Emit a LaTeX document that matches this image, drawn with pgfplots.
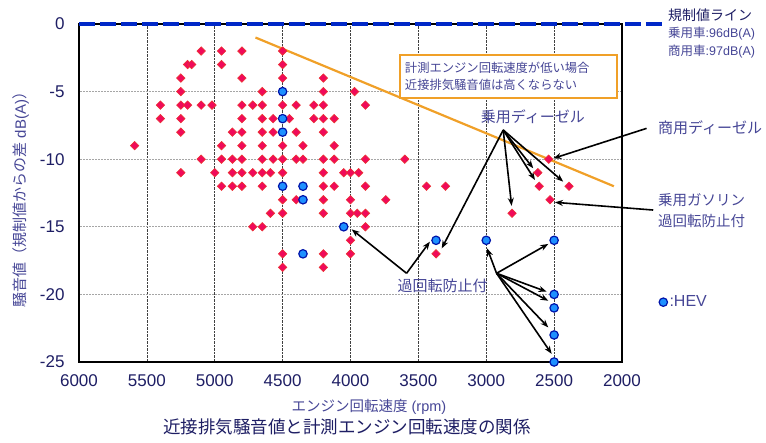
\documentclass[border=0pt]{standalone}
\usepackage{pgfplots}
\pgfplotsset{compat=1.18}
\usepackage{pgfplotstable}
\usepackage{fontspec}
\setmainfont{Liberation Sans}
\newfontfamily\cjk{Noto Sans CJK JP}
\usetikzlibrary{arrows.meta,calc}
\definecolor{navy}{RGB}{30,30,100}
\definecolor{annot}{RGB}{70,70,150}
\definecolor{redm}{RGB}{240,10,90}
\definecolor{redb}{RGB}{235,50,50}
\definecolor{bluef}{RGB}{30,144,255}
\definecolor{blueb}{RGB}{0,20,170}
\definecolor{orng}{RGB}{240,160,40}
\definecolor{regblue}{RGB}{0,40,200}

\pgfplotstableread{
x y
5100 -2
4950 -2
4800 -2
4500 -2
5200 -3
5170 -3
4950 -3
4500 -3
5250 -4
4800 -4
4500 -4
4200 -4
5250 -5
4650 -5
4200 -5
3970 -5
5400 -6
5250 -6
5200 -6
5100 -6
5020 -6
4800 -6
4720 -6
4650 -6
4500 -6
4400 -6
4270 -6
4200 -6
3890 -6
5400 -7
5250 -7
4800 -7
4650 -7
4570 -7
4450 -7
4270 -7
4200 -7
4120 -7
5250 -8
4870 -8
4800 -8
4650 -8
4570 -8
4400 -8
4200 -8
5590 -9
4950 -9
4800 -9
4650 -9
4500 -9
4350 -9
4120 -9
5100 -10
4950 -10
4870 -10
4800 -10
4650 -10
4570 -10
4500 -10
4400 -10
4350 -10
4200 -10
4120 -10
3890 -10
3600 -10
2540 -10
5250 -11
5000 -11
4870 -11
4800 -11
4720 -11
4650 -11
4590 -11
4500 -11
4200 -11
4050 -11
4000 -11
3940 -11
2620 -11
4950 -12
4870 -12
4800 -12
4650 -12
4200 -12
4120 -12
3890 -12
3440 -12
3300 -12
2610 -12
2390 -12
4500 -13
4400 -13
4200 -13
4000 -13
3740 -13
2530 -13
4590 -14
4500 -14
4200 -14
4000 -14
3950 -14
3890 -14
2810 -14
4720 -15
4650 -15
3890 -15
4000 -16
4500 -17
4200 -17
4000 -17
3370 -17
4500 -18
4200 -18
}\redpts

\pgfplotstableread{
x y
4500 -5
4500 -7
4500 -8
4500 -12
4350 -12
4350 -13
4050 -15
4350 -17
3370 -16
3000 -16
2500 -16
2500 -20
2500 -21
2500 -23
2500 -25
}\bluepts

\tikzset{arr/.style={-{Stealth[length=8pt,width=6pt]}, line width=1.6pt, black}}

\begin{document}
\begin{tikzpicture}
\begin{axis}[
  width=543pt, height=338pt, scale only axis,
  x dir=reverse,
  xmin=2000, xmax=6000, ymin=-25, ymax=0,
  xtick={2000,2500,...,6000}, ytick={-25,-20,...,0},
  major tick length=0pt,
  /pgf/number format/assume math mode=true,
  /pgf/number format/1000 sep={},
  tick label style={font=\fontsize{17}{17}\selectfont, text=navy},
  xticklabel style={yshift=-9pt},
  yticklabel style={xshift=-11pt},
  grid=major,
  x grid style={black!75, densely dotted, line width=0.6pt},
  y grid style={gray!70, dash pattern=on 1.5pt off 1.5pt, line width=0.6pt},
  axis line style={black, line width=1.4pt},
  clip=false,
  xlabel={\cjk エンジン回転速度\rmfamily\ (rpm)},
  xlabel style={at={(axis description cs:0.534,-0.134)}, anchor=center, font=\fontsize{14.5}{14.5}\selectfont, text=annot},
  ylabel={\cjk 騒音値（規制値からの差\rmfamily\ dB(A)\cjk ）},
  ylabel style={at={(axis description cs:-0.107,0.491)}, anchor=center, font=\fontsize{15}{15}\selectfont, text=annot},
  title={\cjk 近接排気騒音値と計測エンジン回転速度の関係},
  title style={at={(axis description cs:0.494,-0.21)}, anchor=center, font=\fontsize{17.5}{17.5}\selectfont, text=navy},
  legend style={at={(axis description cs:1.068,0.177)}, anchor=west, draw=none, fill=none, inner sep=0pt,
    font=\fontsize{16}{16}\selectfont, text=annot},
  legend image code/.code={\draw[mark repeat=2,mark phase=2,#1] plot coordinates {(0pt,0pt)(5pt,0pt)(10pt,0pt)};},
]
\coordinate (SW) at (axis description cs:0,0);
% regulation line
\addplot[forget plot, regblue, line width=3.5pt, dash pattern=on 16pt off 5pt] coordinates {(6000,0) (1700,0)};
% trend line
\addplot[forget plot, orng, line width=2.2pt] coordinates {(4700,-1) (2060,-12)};
% box
\draw[orng, line width=2pt, fill=white] (axis cs:3635,-2.3) rectangle (axis cs:2040,-5.5);
\node[anchor=west, align=left, inner sep=0pt, text=annot, font=\fontsize{12.3}{17}\selectfont\cjk] at (axis cs:3600,-3.9)
  {計測エンジン回転速度が低い場合\\近接排気騒音値は高くならない};
% data
\addplot[forget plot, only marks, mark=square*, mark size=3pt,
  mark options={rotate=45, fill=redm, draw=redb, line width=0.6pt}] table[x=x,y=y] {\redpts};
\addplot[only marks, mark=*, mark size=4.2pt,
  mark options={fill=bluef, draw=blueb, line width=1.2pt}] table[x=x,y=y] {\bluepts};
\addlegendentry{:HEV}
% regulation label
\node[anchor=west, inner sep=0pt, text=navy, font=\fontsize{14}{14}\selectfont\cjk] at (axis cs:1661,0.67) {規制値ライン};
\node[anchor=west, inner sep=0pt, text=annot, font=\fontsize{12.5}{12.5}\selectfont] at (axis cs:1661,-0.67) {{\cjk 乗用車}:96dB(A)};
\node[anchor=west, inner sep=0pt, text=annot, font=\fontsize{12.5}{12.5}\selectfont] at (axis cs:1661,-2.07) {{\cjk 商用車}:97dB(A)};
% 乗用ディーゼル
\node[anchor=center, inner sep=0pt, text=annot, font=\fontsize{15}{15}\selectfont\cjk] at (axis cs:2656,-6.88) {乗用ディーゼル};
\draw[arr] (axis cs:2875,-7.84) -- (axis cs:2654,-10.67);
\draw[arr] (axis cs:2875,-7.84) -- (axis cs:2641,-11.54);
\draw[arr] (axis cs:2875,-7.84) -- (axis cs:2433,-11.66);
\draw[arr] (axis cs:2875,-7.84) -- (axis cs:2813,-13.45);
\draw[arr] (axis cs:2875,-7.84) -- (axis cs:3328,-16.6);
% 商用ディーゼル
\node[anchor=west, inner sep=0pt, text=annot, font=\fontsize{15}{15}\selectfont\cjk] at (axis cs:1735,-7.7) {商用ディーゼル};
\draw[arr] (axis cs:1819,-7.72) -- (axis cs:2506,-9.94);
% 乗用ガソリン
\node[anchor=west, inner sep=0pt, text=annot, font=\fontsize{14.5}{21}\selectfont\cjk, align=left] at (axis cs:1735,-13.8) {乗用ガソリン\\過回転防止付};
\draw[arr] (axis cs:1770,-13.76) -- (axis cs:2494,-13.19);
% 過回転防止付 (lower)
\node[anchor=center, inner sep=0pt, text=annot, font=\fontsize{15}{15}\selectfont\cjk] at (axis cs:3322,-19.38) {過回転防止付};
\draw[arr] (axis cs:3587,-18.44) -- (axis cs:3991,-15.19);
\draw[arr] (axis cs:3587,-18.44) -- (axis cs:3415,-16.1);
% HEV arrows
\draw[arr] (axis cs:2924,-18.44) -- (axis cs:2993,-16.6);
\draw[arr] (axis cs:2924,-18.44) -- (axis cs:2543,-16.27);
\draw[arr] (axis cs:2924,-18.44) -- (axis cs:2555,-19.8);
\draw[arr] (axis cs:2924,-18.44) -- (axis cs:2543,-20.47);
\draw[arr] (axis cs:2924,-18.44) -- (axis cs:2543,-22.44);
\draw[arr] (axis cs:2924,-18.44) -- (axis cs:2518,-24.4);
\end{axis}
\pgfresetboundingbox
\path[use as bounding box] ($(SW)+(-79pt,-81pt)$) rectangle ($(SW)+(687pt,362pt)$);
\end{tikzpicture}
\end{document}
